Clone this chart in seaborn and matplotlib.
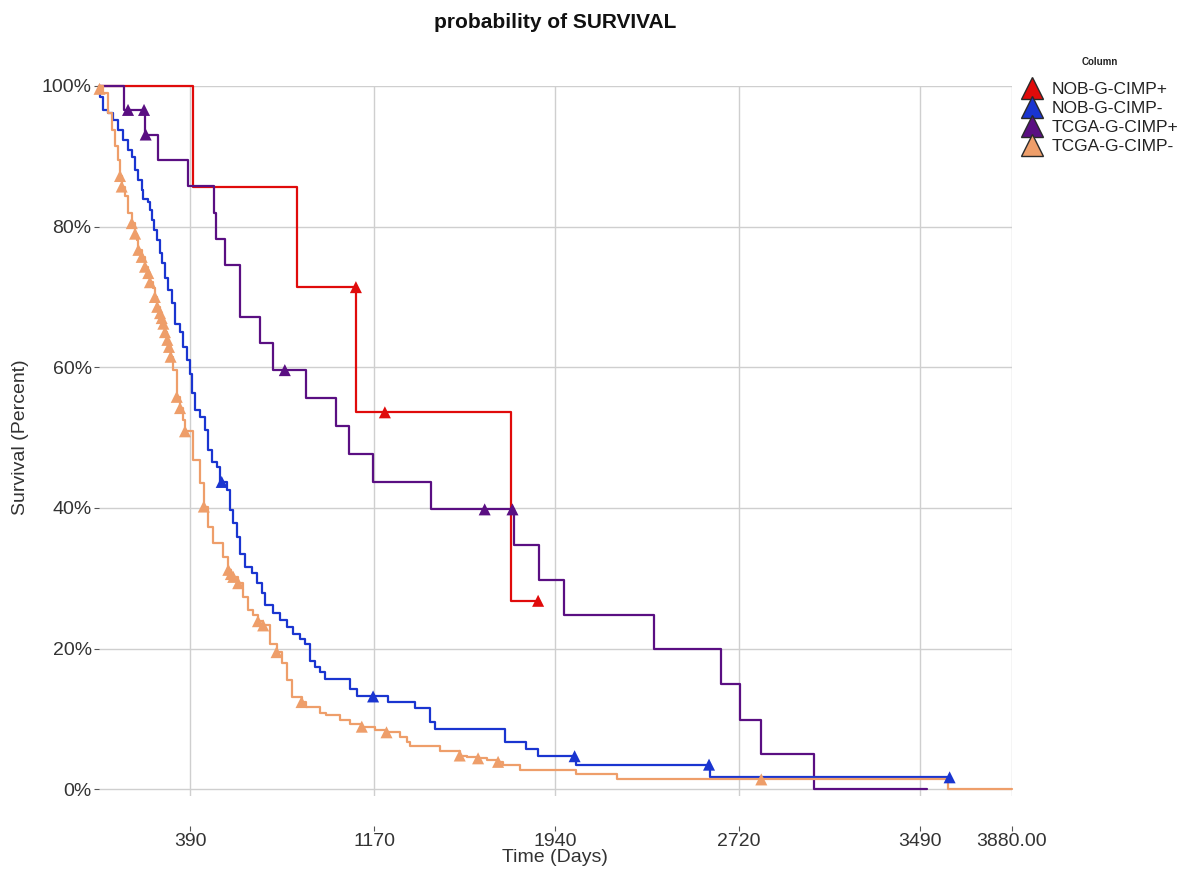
import numpy as np
import pandas as pd
import matplotlib
matplotlib.use("Agg")
import matplotlib.pyplot as plt
import seaborn as sns
from matplotlib.lines import Line2D

# ---------------- data (days, survival percent) ----------------
groups = ["NOB-G-CIMP+", "NOB-G-CIMP-", "TCGA-G-CIMP+", "TCGA-G-CIMP-"]
colors = ["#E00B0B", "#1A35D0", "#5A0F82", "#EE9E6A"]

nob_pos_time = [0, 400, 842, 1095, 1753, 1867]
nob_pos_surv = [100, 85.7, 71.4, 53.6, 26.8, 26.8]
nob_pos_cens_time = [1093, 1216, 1867]
nob_pos_cens_surv = [71.4, 53.6, 26.8]

nob_neg_time = [0, 6, 20, 41, 62, 84, 105, 126, 141, 155, 169, 183, 190, 211,
                218, 225, 236, 247, 261, 268, 282, 296, 310, 324, 346, 360,
                374, 388, 395, 409, 430, 452, 466, 480, 501, 515, 544, 558,
                572, 586, 600, 622, 650, 671, 692, 706, 742, 770, 799, 827,
                855, 876, 898, 919, 940, 961, 1067, 1096, 1230, 1343, 1407,
                1428, 1725, 1817, 1867, 2030, 2596, 3615]
nob_neg_surv = [100, 98.5, 96.6, 96.1, 95.2, 93.7, 92.3, 90.9, 89.9, 88.0,
                86.6, 85.2, 84.0, 83.5, 82.4, 80.9, 79.5, 78.1, 76.2, 74.8,
                72.7, 71.0, 69.1, 66.2, 65.0, 62.9, 61.0, 59.1, 56.3, 53.9,
                53.0, 51.1, 48.2, 46.6, 45.8, 43.7, 42.5, 39.7, 37.8, 35.9,
                33.5, 31.6, 30.7, 29.3, 27.9, 26.2, 25.0, 24.0, 23.1, 22.1,
                21.4, 20.7, 18.3, 17.4, 16.7, 15.7, 14.3, 13.2, 12.4, 11.5,
                9.6, 8.6, 6.7, 5.7, 4.7, 3.5, 1.7, 1.7]
nob_neg_cens_time = [523, 1166, 2022, 2593, 3615]
nob_neg_cens_surv = [43.7, 13.2, 4.7, 3.5, 1.7]

tcga_pos_time = [0, 108, 195, 252, 381, 491, 498, 537, 600, 685, 742, 883,
                 1010, 1065, 1164, 1414, 1765, 1871, 1975, 2359, 2645, 2726,
                 2815, 3037, 3520]
tcga_pos_surv = [100, 96.6, 93.1, 89.5, 85.8, 82.0, 78.2, 74.6, 67.1, 63.4,
                 59.6, 55.7, 51.6, 47.7, 43.7, 39.8, 34.8, 29.8, 24.8, 19.9,
                 14.9, 9.9, 4.95, 0, 0]
tcga_pos_cens_time = [125, 193, 200, 791, 1640, 1758]
tcga_pos_cens_surv = [96.6, 96.6, 93.1, 59.6, 39.8, 39.8]

tcga_neg_time = [0, 20, 41, 56, 70, 84, 91, 98, 112, 126, 141, 155, 162, 169,
                 183, 197, 211, 218, 232, 239, 249, 261, 268, 275, 282, 292,
                 299, 306, 317, 332, 346, 360, 367, 401, 430, 447, 466, 487,
                 529, 551, 562, 572, 593, 614, 636, 657, 677, 699, 728, 756,
                 777, 799, 820, 862, 883, 940, 968, 1025, 1067, 1118, 1173,
                 1223, 1280, 1308, 1322, 1449, 1534, 1563, 1612, 1648, 1697,
                 1718, 1789, 2030, 2200, 3607, 3880]
tcga_neg_surv = [100, 99.0, 96.1, 93.7, 91.4, 89.5, 87.2, 85.7, 84.3, 81.9,
                 80.5, 79.0, 78.1, 76.7, 75.7, 74.3, 73.4, 72.1, 71.3, 70.0,
                 68.6, 67.7, 67.0, 66.2, 65.0, 63.9, 62.9, 61.5, 59.6, 55.8,
                 54.2, 52.5, 50.9, 46.8, 43.5, 40.2, 37.3, 35.0, 33.0, 31.2,
                 30.6, 30.2, 29.3, 27.4, 25.5, 24.8, 23.9, 23.3, 20.7, 19.5,
                 17.9, 15.5, 13.1, 12.4, 11.7, 10.8, 10.5, 9.8, 9.3, 8.9, 8.4,
                 8.1, 7.4, 6.7, 6.2, 5.5, 4.8, 4.6, 4.4, 4.2, 3.9, 3.5, 2.8,
                 2.1, 1.4, 0, 0]
tcga_neg_cens_time = [4, 91, 98, 141, 155, 169, 183, 197, 211, 218, 239, 249,
                      261, 268, 275, 282, 292, 299, 306, 332, 346, 367, 447,
                      551, 562, 572, 593, 677, 699, 756, 862, 1118, 1223, 1534,
                      1612, 1697, 2815]
tcga_neg_cens_surv = [99.6, 87.2, 85.7, 80.5, 79.0, 76.7, 75.7, 74.3, 73.4,
                      72.1, 70.0, 68.6, 67.7, 67.0, 66.2, 65.0, 63.9, 62.9,
                      61.5, 55.8, 54.2, 50.9, 40.2, 31.2, 30.6, 30.2, 29.3,
                      23.9, 23.3, 19.5, 12.4, 8.9, 8.1, 4.8, 4.4, 3.9, 1.4]

x_ticks = [390, 1170, 1940, 2720, 3490, 3880]
x_tick_labels = ["390", "1170", "1940", "2720", "3490", "3880.00"]
y_ticks = [0, 20, 40, 60, 80, 100]
y_tick_labels = ["0%", "20%", "40%", "60%", "80%", "100%"]

# ---------------- tables ----------------
curves = {
    "NOB-G-CIMP+": (nob_pos_time, nob_pos_surv),
    "NOB-G-CIMP-": (nob_neg_time, nob_neg_surv),
    "TCGA-G-CIMP+": (tcga_pos_time, tcga_pos_surv),
    "TCGA-G-CIMP-": (tcga_neg_time, tcga_neg_surv),
}
cens = {
    "NOB-G-CIMP+": (nob_pos_cens_time, nob_pos_cens_surv),
    "NOB-G-CIMP-": (nob_neg_cens_time, nob_neg_cens_surv),
    "TCGA-G-CIMP+": (tcga_pos_cens_time, tcga_pos_cens_surv),
    "TCGA-G-CIMP-": (tcga_neg_cens_time, tcga_neg_cens_surv),
}
df_lines = pd.concat([pd.DataFrame({"group": g, "time": t, "surv": s})
                      for g, (t, s) in curves.items()], ignore_index=True)
df_cens = pd.concat([pd.DataFrame({"group": g, "time": t, "surv": s})
                     for g, (t, s) in cens.items()], ignore_index=True)
palette = dict(zip(groups, colors))
draw_order = ["NOB-G-CIMP+", "TCGA-G-CIMP+", "NOB-G-CIMP-", "TCGA-G-CIMP-"]

# ---------------- plot ----------------
sns.set_style("white")
plt.rcParams["font.family"] = ["Liberation Sans", "DejaVu Sans"]

W, H = 1202, 874
fig = plt.figure(figsize=(W / 100, H / 100), dpi=100)
# y = 100 at 86 px, y = 0 at 789.3 px, axes bottom a bit below zero
ax = fig.add_axes([98.6 / W, 1 - 796.3 / H, 913.4 / W, 710.3 / H])

sns.lineplot(data=df_lines, x="time", y="surv", hue="group",
             hue_order=draw_order, palette=palette, estimator=None,
             drawstyle="steps-post", linewidth=1.6, legend=False, ax=ax,
             zorder=2, clip_on=False)
sns.scatterplot(data=df_cens, x="time", y="surv", hue="group",
                hue_order=draw_order, palette=palette, marker="^", s=75,
                linewidth=0, legend=False, ax=ax, zorder=3, clip_on=False)

ax.set_xlim(0, 3880)
ax.set_ylim(-1, 100)
ax.set_xticks(x_ticks)
ax.set_xticklabels(x_tick_labels)
ax.set_yticks(y_ticks)
ax.set_yticklabels(y_tick_labels)
ax.grid(True, color="#cfcfcf", linewidth=1.0)
ax.set_axisbelow(True)
for sp in ax.spines.values():
    sp.set_visible(False)
ax.spines["bottom"].set_visible(True)
ax.spines["bottom"].set_color("none")
ax.spines["bottom"].set_position(("outward", 21.6))
ax.tick_params(axis="x", bottom=True, direction="out", length=3.5, width=0.8,
               color="#555555", pad=1.5, labelsize=14, labelcolor="#333333")
ax.tick_params(axis="y", left=True, direction="out", length=3.5, width=0.8,
               color="#555555", pad=1.5, labelsize=14, labelcolor="#333333")

ax.set_xlabel("Time (Days)", fontsize=14, color="#333333")
ax.set_ylabel("Survival (Percent)", fontsize=14, color="#333333")
ax_h = 710.3
ax.xaxis.set_label_coords(0.5, (796.3 - 858) / ax_h)
ax.xaxis.label.set_va("center")
ax.yaxis.set_label_coords((20 - 98.6) / 913.4, (796.3 - 437) / ax_h)
ax.yaxis.label.set_va("center")

fig.text(555 / W, 1 - 22 / H, "probability of SURVIVAL", ha="center",
         va="center", fontsize=15, fontweight="bold", color="#111111")

fig.text(1100 / W, 1 - 62 / H, "Column", ha="center", va="center",
         fontsize=7, fontweight="bold", color="#222222")
handles = [Line2D([], [], linestyle="none", marker="^", markersize=16,
                  markerfacecolor=c, markeredgecolor="#2a2a2a",
                  markeredgewidth=1.0) for c in colors]
leg = fig.legend(handles, groups, loc="upper left",
                 bbox_to_anchor=(1021.6 / W, 1 - 82 / H), frameon=False,
                 fontsize=12.5, handlelength=1.2, handletextpad=0.55,
                 labelspacing=0.22, borderpad=0, borderaxespad=0)
for t in leg.get_texts():
    t.set_color("#222222")

fig.savefig("out.png", dpi=100)
